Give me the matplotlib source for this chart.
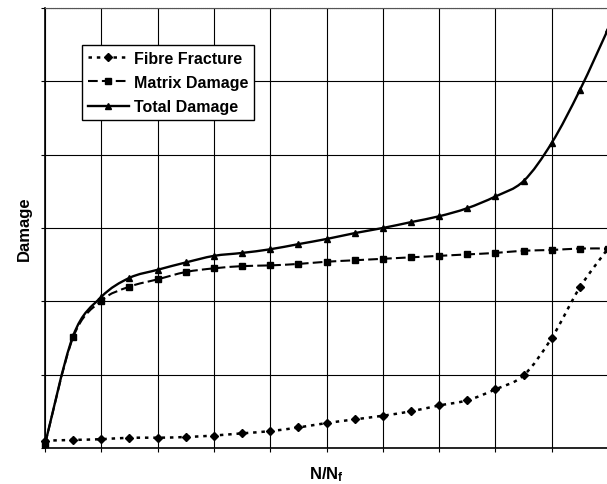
import numpy as np
import matplotlib
matplotlib.use("Agg")
import matplotlib.pyplot as plt
from matplotlib.path import Path
from matplotlib.patches import PathPatch
from matplotlib.lines import Line2D

plt.rcParams['font.family'] = ['Liberation Sans', 'DejaVu Sans']
plt.rcParams['mathtext.fontset'] = 'custom'
plt.rcParams['mathtext.bf'] = 'Liberation Sans:bold'
plt.rcParams['mathtext.rm'] = 'Liberation Sans'
plt.rcParams['lines.scale_dashes'] = False

# ---- data (N/Nf, damage in grid units) ----
n_ratio = [0.00, 0.05, 0.10, 0.15, 0.20, 0.25, 0.30, 0.35, 0.40, 0.45, 0.50,
           0.55, 0.60, 0.65, 0.70, 0.75, 0.80, 0.85, 0.90, 0.95, 1.00]
fibre_fracture = [0.10, 0.11, 0.12, 0.14, 0.14, 0.15, 0.17, 0.20, 0.23, 0.28, 0.34,
                  0.39, 0.44, 0.50, 0.58, 0.65, 0.80, 0.99, 1.50, 2.19, 2.72]
matrix_damage = [0.05, 1.51, 2.01, 2.20, 2.30, 2.40, 2.45, 2.48, 2.49, 2.51, 2.54,
                 2.56, 2.58, 2.60, 2.62, 2.64, 2.66, 2.69, 2.70, 2.72, 2.72]
total_damage = [0.05, 1.53, 2.06, 2.32, 2.43, 2.53, 2.62, 2.66, 2.71, 2.78, 2.85,
                2.93, 3.00, 3.08, 3.16, 3.27, 3.43, 3.64, 4.16, 4.88, 5.71]

labels = ["Fibre Fracture", "Matrix Damage", "Total Damage"]


def smooth_path(x, y):
    """Catmull-Rom style bezier through the points (like a spreadsheet smoothed line)."""
    pts = np.column_stack([x, y]).astype(float)
    n = len(pts)
    verts = [pts[0]]
    codes = [Path.MOVETO]
    for i in range(n - 1):
        p0 = pts[max(i - 1, 0)]
        p1 = pts[i]
        p2 = pts[i + 1]
        p3 = pts[min(i + 2, n - 1)]
        verts += [p1 + (p2 - p0) / 6, p2 - (p3 - p1) / 6, p2]
        codes += [Path.CURVE4] * 3
    return Path(verts, codes)


fig = plt.figure(figsize=(6.07, 4.85), dpi=100)
ax = fig.add_axes([45 / 607, 1 - 449 / 485, 563 / 607, 440 / 485])
ax.set_xlim(0, 1)
ax.set_ylim(0, 6)

styles = [
    dict(values=fibre_fracture, ls=(0, (2.5, 3.5)), lw=1.8, marker='D', ms=3.8),
    dict(values=matrix_damage, ls=(0, (7, 3)), lw=1.5, marker='s', ms=4.2),
    dict(values=total_damage, ls='-', lw=1.7, marker='^', ms=4.5),
]

handles = []
for st, lab in zip(styles, labels):
    patch = PathPatch(smooth_path(n_ratio, st['values']), facecolor='none',
                      edgecolor='black', lw=st['lw'], linestyle=st['ls'],
                      capstyle='butt', zorder=3, clip_on=False)
    ax.add_patch(patch)
    ax.plot(n_ratio, st['values'], linestyle='none', marker=st['marker'],
            ms=st['ms'], color='black', zorder=4, clip_on=False)
    handles.append(Line2D([], [], color='black', lw=st['lw'], linestyle=st['ls'],
                          marker=st['marker'], ms=st['ms'], dash_capstyle='butt'))

# grid and frame
ax.set_xticks(np.arange(0, 1.01, 0.1))
ax.set_yticks(np.arange(0, 6.01, 1))
ax.set_xticklabels([])
ax.set_yticklabels([])
ax.tick_params(direction='out', length=3, width=0.8, color='black')
ax.grid(True, color='black', lw=0.8)
ax.set_axisbelow(True)
ax.spines['right'].set_visible(False)
ax.spines['top'].set_color('#555555')
ax.spines['top'].set_linewidth(0.8)
ax.spines['top'].set_linestyle((0, (1, 0.5)))
for s in ['left', 'bottom']:
    ax.spines[s].set_linewidth(1.2)

ax.set_ylabel("Damage", fontsize=12, fontweight='bold')
ax.yaxis.set_label_coords(-0.024, 0.5)
ax.set_xlabel(r"$\mathbf{N/N_f}$", fontsize=12)
ax.xaxis.set_label_coords(0.5, -0.036)

leg = ax.legend(handles, labels, loc='upper left',
                bbox_to_anchor=((82 - 45) / 563, (449 - 46) / 440),
                borderaxespad=0, prop={'weight': 'bold', 'size': 11.5},
                handlelength=2.6, handletextpad=0.3, borderpad=0.35,
                labelspacing=0.58, fancybox=False, framealpha=1, edgecolor='black')
leg.get_frame().set_linewidth(1.0)

fig.savefig("out.png", dpi=100)
